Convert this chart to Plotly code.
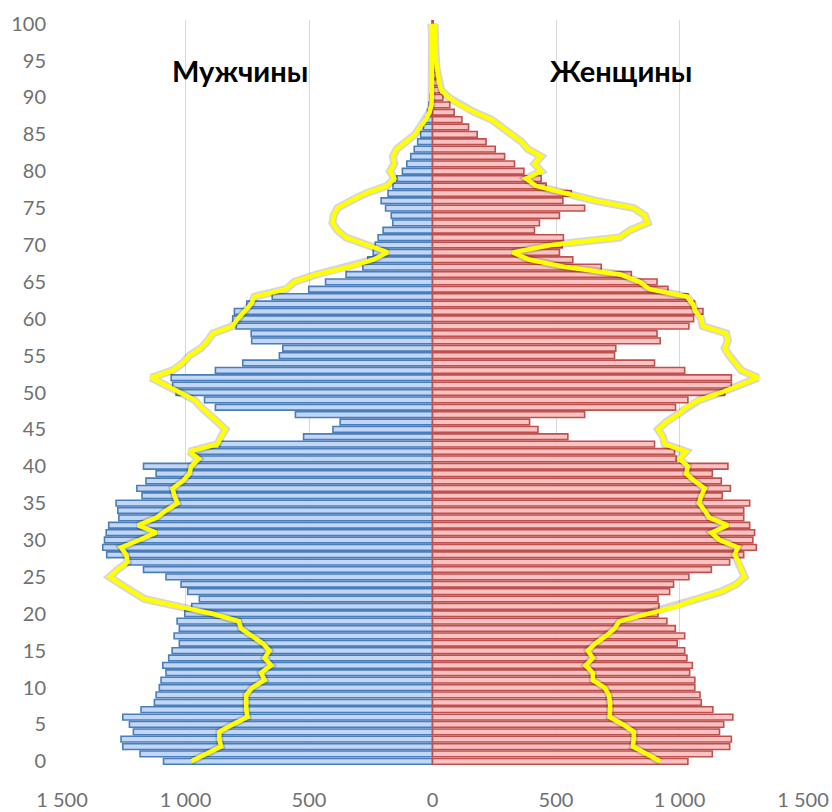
import plotly.graph_objects as go

ages = list(range(0, 101))

# население (тыс.) по возрастам — столбцы
men = [1089, 1184, 1254, 1261, 1211, 1227, 1254, 1180, 1126, 1119,
       1106, 1099, 1079, 1092, 1068, 1054, 1025, 1046, 1025, 1034,
       1003, 975, 944, 991, 1018, 1079, 1170, 1234, 1319, 1335,
       1328, 1321, 1311, 1270, 1274, 1281, 1176, 1197, 1160, 1119,
       1170, 951, 960, 863, 522, 403, 374, 555, 879, 923,
       1038, 1052, 1058, 879, 768, 620, 606, 732, 734, 795,
       809, 802, 752, 649, 501, 433, 350, 282, 262, 240,
       232, 220, 200, 161, 167, 190, 208, 180, 160, 145,
       122, 104, 88, 74, 60, 48, 37, 28, 20, 14,
       10, 7, 5, 4, 3, 2, 2, 1, 1, 1, 2]

women = [1034, 1133, 1203, 1210, 1162, 1179, 1216, 1135, 1088, 1083,
         1062, 1062, 1041, 1052, 1030, 1021, 991, 1021, 983, 949,
         913, 917, 913, 960, 976, 1038, 1129, 1203, 1260, 1311,
         1297, 1304, 1284, 1260, 1260, 1284, 1173, 1206, 1169, 1133,
         1196, 987, 980, 899, 548, 427, 393, 616, 984, 1034,
         1183, 1210, 1210, 1021, 899, 737, 742, 922, 909, 1038,
         1057, 1095, 1061, 1034, 953, 909, 805, 683, 568, 514,
         525, 530, 413, 433, 514, 616, 528, 562, 460, 440,
         370, 332, 292, 254, 217, 181, 146, 119, 88, 70,
         42, 28, 22, 16, 12, 8, 6, 4, 3, 2, 3]

# жёлтая линия — сравнительная структура
men_line = [977, 917, 856, 863, 863, 810, 749, 754, 754, 754,
            729, 680, 694, 653, 680, 660, 688, 729, 775, 785,
            891, 1030, 1166, 1215, 1261, 1308, 1274, 1234, 1240, 1261,
            1187, 1119, 1193, 1119, 1079, 1032, 1045, 1052, 1011, 984,
            977, 946, 984, 870, 856, 838, 870, 907, 937, 964,
            1025, 1079, 1139, 1052, 1011, 984, 937, 910, 890, 809,
            789, 761, 734, 721, 593, 559, 470, 340, 240, 181,
            260, 350, 385, 405, 400, 385, 330, 270, 185, 155,
            172, 155, 160, 145, 107, 70, 50, 26, 12, 4,
            3, 2, 2, 2, 2, 2, 2, 2, 2, 3, 5]

women_line = [922, 865, 811, 815, 815, 771, 717, 719, 719, 714,
              697, 649, 649, 620, 649, 629, 660, 703, 737, 757,
              865, 990, 1070, 1169, 1230, 1264, 1250, 1241, 1223, 1237,
              1162, 1129, 1196, 1122, 1102, 1079, 1088, 1102, 1061, 1027,
              1034, 1000, 1027, 940, 933, 913, 946, 994, 1027, 1081,
              1169, 1243, 1318, 1250, 1223, 1202, 1183, 1196, 1189, 1094,
              1088, 1065, 1054, 1030, 879, 838, 760, 540, 393, 325,
              480, 757, 800, 871, 860, 815, 660, 535, 420, 379,
              440, 413, 440, 386, 360, 320, 280, 238, 170, 110,
              65, 35, 27, 22, 16, 14, 12, 11, 10, 9, 8]

x_ticks = [-1500, -1000, -500, 0, 500, 1000, 1500]
x_labels = ["1 500", "1 000", "500", "0", "500", "1 000", "1 500"]

fig = go.Figure()

fig.add_trace(go.Bar(y=ages, x=[-v for v in men], orientation='h', name='Мужчины',
                     marker=dict(color='#c2d6f6', line=dict(color='#4a7ebb', width=1.6))))
fig.add_trace(go.Bar(y=ages, x=women, orientation='h', name='Женщины',
                     marker=dict(color='#fac3c3', line=dict(color='#c0504d', width=1.6))))

# тень под линией
for xs in ([-v for v in men_line], women_line):
    fig.add_trace(go.Scatter(x=xs, y=ages, mode='lines',
                             line=dict(color='rgba(0,0,0,0.16)', width=8), hoverinfo='skip'))
fig.add_trace(go.Scatter(x=[-v for v in men_line], y=ages, mode='lines',
                         line=dict(color='#ffff00', width=4.5)))
fig.add_trace(go.Scatter(x=women_line, y=ages, mode='lines',
                         line=dict(color='#ffff00', width=4.5)))

fig.add_annotation(x=-780, y=93.7, text="<b>Мужчины</b>", showarrow=False,
                   font=dict(size=29, color='black', family='Lato, Open Sans'))
fig.add_annotation(x=765, y=93.7, text="<b>Женщины</b>", showarrow=False,
                   font=dict(size=29, color='black', family='Lato, Open Sans'))

fig.update_layout(
    width=832, height=812,
    margin=dict(l=62, r=29, t=20, b=47),
    barmode='overlay', bargap=0.22,
    showlegend=False,
    plot_bgcolor='white', paper_bgcolor='white',
    font=dict(family='Lato, Open Sans', size=20, color='#707070'),
    xaxis=dict(range=[-1500, 1500], tickvals=x_ticks, ticktext=x_labels,
               showgrid=True, gridcolor='#d9d9d9', gridwidth=1, zeroline=False,
               ticks='', ticklabelstandoff=21, automargin=False),
    yaxis=dict(range=[-0.5, 100.5], tickvals=list(range(0, 101, 5)),
               showgrid=False, zeroline=False, showline=False, ticks='',
               ticklabelstandoff=15, automargin=False),
)

fig.write_html("out.html", config={'displayModeBar': False},
               post_script="document.body.style.margin='0';")
